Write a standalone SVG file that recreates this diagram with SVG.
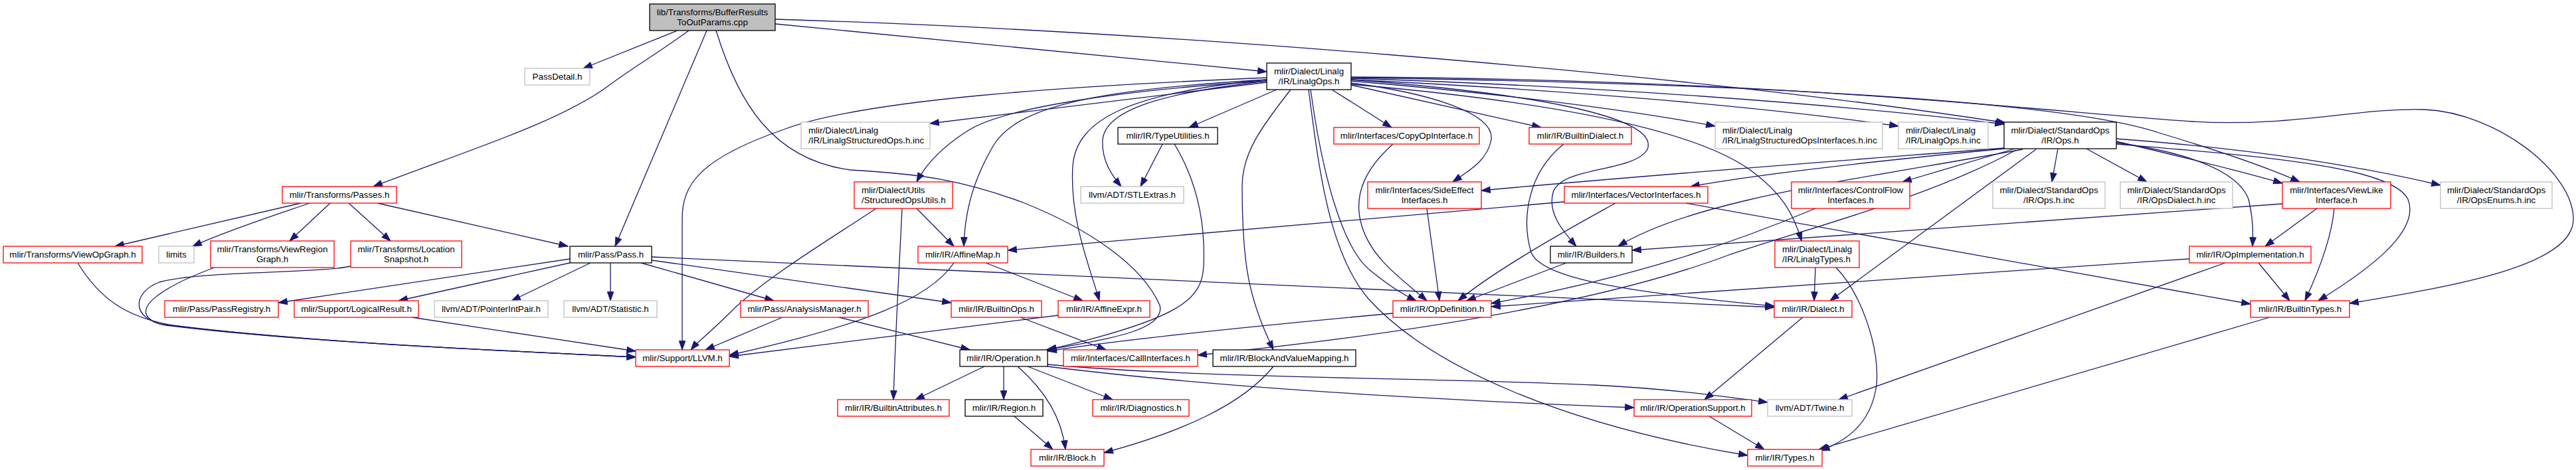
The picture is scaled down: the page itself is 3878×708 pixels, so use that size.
<svg xmlns="http://www.w3.org/2000/svg" width="3878" height="708" viewBox="0 0 3878 708">
<style>
.node rect{fill:#fff;stroke-width:1.3}
.r rect{stroke:#ff0000}
.k rect{stroke:#000}
.g rect{stroke:#bfbfbf}
.root rect{fill:#bfbfbf;stroke:#000}
text{font-family:"Liberation Sans",Arial,sans-serif;font-size:13.33px;fill:#000}
.c{text-anchor:middle}
#edges path{fill:none;stroke:#191970;stroke-width:1.3;marker-end:url(#ah)}
</style>
<defs>
<marker id="ah" viewBox="0 0 14 10" refX="13.3" refY="4.67" markerWidth="14" markerHeight="10" markerUnits="userSpaceOnUse" orient="auto" style="overflow:visible"><path d="M0,0 L13.3,4.67 L0,9.33 Z" fill="#191970" stroke="#191970" stroke-width="1"/></marker>
</defs>
<rect x="0" y="0" width="3878" height="708" fill="#fff"/>
<g id="edges">
<path d="M1020,46 L878,103"/>
<path d="M1037,46 C985,84 955,100 915,130 C840,185 700,228 562,281"/>
<path d="M1064,46 L926,371"/>
<path d="M1167,36 L1907,108"/>
<path d="M1167,29 C1700,45 2500,105 3019,185"/>
<path d="M1078,46 C1110,150 1160,240 1280,256 C1390,262 1450,272 1540,305 C1640,345 1720,400 1746,460 C1755,495 1680,510 1575,527"/>
<path d="M453,306 L173,371"/>
<path d="M466,306 C420,322 340,348 290,371"/>
<path d="M497,306 L436,363"/>
<path d="M525,306 L588,363"/>
<path d="M568,306 L855,371"/>
<path d="M117,396 C150,450 190,478 260,490 C450,515 750,528 957,538"/>
<path d="M323,403 C250,430 185,468 240,488 C450,515 750,528 957,538"/>
<path d="M528,401 C480,412 300,408 240,425 C200,440 195,480 250,490 C450,515 750,528 957,538"/>
<path d="M620,478 L957,529"/>
<path d="M858,390 L419,456"/>
<path d="M858,396 L600,453"/>
<path d="M889,396 L770,453"/>
<path d="M919,396 L919,453"/>
<path d="M965,396 L1165,453"/>
<path d="M981,387 L2671,463"/>
<path d="M981,392 L1432,456"/>
<path d="M1178,478 L1062,527"/>
<path d="M1263,478 L1460,527"/>
<path d="M1907,124 L1400,186"/>
<path d="M1907,122 C1700,135 1520,160 1460,195 C1420,220 1395,245 1380,274"/>
<path d="M1907,120 C1650,135 1530,160 1495,220 C1460,280 1452,330 1451,371"/>
<path d="M1907,117 C1600,130 1300,150 1180,195 C1050,240 1027,280 1027,330 L1027,527"/>
<path d="M1907,120 C1700,140 1620,180 1615,250 C1610,330 1640,400 1655,453"/>
<path d="M1907,122 C1750,140 1665,165 1660,210 C1658,240 1672,262 1688,281"/>
<path d="M1922,135 L1790,192"/>
<path d="M1943,135 C1900,190 1870,230 1870,280 C1870,400 1880,450 1917,527"/>
<path d="M1970,135 C1985,250 2000,380 2060,450 C2150,550 2350,640 2631,686"/>
<path d="M1973,135 C1990,260 2020,370 2060,405 C2090,430 2115,445 2132,453"/>
<path d="M2005,135 L2095,192"/>
<path d="M2034,125 C2150,140 2250,170 2245,210 C2240,240 2215,255 2187,274"/>
<path d="M2034,128 L2320,192"/>
<path d="M2034,120 C2300,140 2500,175 2480,225 C2460,260 2350,250 2338,290 C2330,320 2350,345 2373,371"/>
<path d="M2034,127 C2300,150 2550,190 2640,260 C2680,290 2700,320 2712,363"/>
<path d="M2034,122 C2250,140 2450,165 2582,190"/>
<path d="M2034,120 C2350,135 2650,160 2858,190"/>
<path d="M2034,118 C2400,130 2750,155 3017,187"/>
<path d="M2034,117 C2600,125 3100,150 3250,200 C3350,230 3420,255 3462,274"/>
<path d="M2034,116 C2700,120 3100,170 3300,183 C3450,192 3550,162 3650,165 C3760,170 3874,260 3874,330 C3874,400 3700,430 3537,457"/>
<path d="M1380,314 L1436,371"/>
<path d="M1358,314 C1354,400 1348,500 1345,602"/>
<path d="M1319,314 C1250,360 1150,420 1100,470 C1070,500 1050,515 1040,527"/>
<path d="M1750,217 L1717,281"/>
<path d="M1768,217 C1800,270 1815,330 1812,400 C1810,450 1780,480 1577,527"/>
<path d="M1436,396 C1400,450 1300,490 1098,535"/>
<path d="M1484,396 L1630,453"/>
<path d="M1593,475 L1098,537"/>
<path d="M1536,478 L1665,527"/>
<path d="M2097,217 C2060,250 2035,290 2050,340 C2065,390 2110,420 2148,453"/>
<path d="M2148,314 L2167,453"/>
<path d="M2354,217 C2300,260 2290,330 2305,380 C2320,420 2450,440 2671,461"/>
<path d="M2355,304 L1517,377"/>
<path d="M2432,306 C2380,335 2260,400 2195,453"/>
<path d="M2538,306 L3388,458"/>
<path d="M3017,223 C2800,240 2500,262 2230,287"/>
<path d="M3017,224 C2850,240 2650,262 2545,281"/>
<path d="M3033,224 L2864,274"/>
<path d="M3098,224 L3089,274"/>
<path d="M3141,224 L3232,274"/>
<path d="M3186,213 C3280,235 3380,260 3436,276"/>
<path d="M3186,209 C3400,225 3550,250 3674,279"/>
<path d="M3186,215 C3300,230 3370,260 3385,300 C3392,330 3392,350 3391,371"/>
<path d="M3186,217 C3400,235 3600,250 3625,300 C3645,350 3560,410 3490,453"/>
<path d="M3045,225 C2800,270 2550,300 2436,371"/>
<path d="M3035,226 C2900,300 2700,350 2600,385 C2400,460 2100,505 1803,535"/>
<path d="M3065,225 L2755,453"/>
<path d="M2733,314 C2600,370 2450,420 2245,457"/>
<path d="M3296,390 C2900,415 2500,445 2245,462"/>
<path d="M3436,307 L2457,377"/>
<path d="M3488,314 L3410,371"/>
<path d="M3514,314 C3510,360 3490,410 3470,453"/>
<path d="M2358,396 L2208,453"/>
<path d="M2097,472 C1900,490 1700,510 1577,529"/>
<path d="M2733,403 L2731,453"/>
<path d="M2764,403 C2800,440 2830,520 2825,580 C2818,630 2790,660 2741,679"/>
<path d="M2714,478 L2566,602"/>
<path d="M3400,396 L3447,453"/>
<path d="M3350,396 L2768,602"/>
<path d="M3417,478 L2738,677"/>
<path d="M1482,552 L1378,602"/>
<path d="M1511,552 L1511,602"/>
<path d="M1532,552 C1575,590 1598,630 1604,677"/>
<path d="M1547,552 L1675,602"/>
<path d="M1577,552 C1800,580 2100,600 2460,614"/>
<path d="M1577,549 C1800,570 2200,570 2400,580 C2520,586 2600,598 2661,606"/>
<path d="M1527,627 L1585,677"/>
<path d="M1917,552 C1870,610 1780,650 1662,682"/>
<path d="M2573,627 L2656,677"/>
</g>
<g id="n0" class="node root"><rect x="978" y="6" width="189" height="40"/><text class="c" x="1072.5" y="23">lib/Transforms/BufferResults</text><text class="c" x="1072.5" y="38">ToOutParams.cpp</text></g>
<g id="n1" class="node g"><rect x="790" y="103" width="98" height="25"/><text class="c" x="839" y="120">PassDetail.h</text></g>
<g id="n2" class="node k"><rect x="1907" y="95" width="127" height="40"/><text class="c" x="1970.5" y="112">mlir/Dialect/Linalg</text><text class="c" x="1970.5" y="127">/IR/LinalgOps.h</text></g>
<g id="n3" class="node k"><rect x="3017" y="184" width="169" height="40"/><text class="c" x="3101.5" y="201">mlir/Dialect/StandardOps</text><text class="c" x="3101.5" y="216">/IR/Ops.h</text></g>
<g id="n4" class="node r"><rect x="425" y="281" width="172" height="25"/><text class="c" x="511" y="298">mlir/Transforms/Passes.h</text></g>
<g id="n5" class="node k"><rect x="858" y="371" width="123" height="25"/><text class="c" x="919.5" y="388">mlir/Pass/Pass.h</text></g>
<g id="n6" class="node g"><rect x="1206" y="184" width="194" height="40"/><text x="1217" y="201">mlir/Dialect/Linalg</text><text x="1217" y="216">/IR/LinalgStructuredOps.h.inc</text></g>
<g id="n7" class="node k"><rect x="1683" y="192" width="150" height="25"/><text class="c" x="1758" y="209">mlir/IR/TypeUtilities.h</text></g>
<g id="n8" class="node r"><rect x="2008" y="192" width="219" height="25"/><text class="c" x="2117.5" y="209">mlir/Interfaces/CopyOpInterface.h</text></g>
<g id="n9" class="node r"><rect x="2302" y="192" width="154" height="25"/><text class="c" x="2379" y="209">mlir/IR/BuiltinDialect.h</text></g>
<g id="n10" class="node g"><rect x="2582" y="184" width="252" height="40"/><text x="2593" y="201">mlir/Dialect/Linalg</text><text x="2593" y="216">/IR/LinalgStructuredOpsInterfaces.h.inc</text></g>
<g id="n11" class="node g"><rect x="2858" y="184" width="135" height="40"/><text x="2869" y="201">mlir/Dialect/Linalg</text><text x="2869" y="216">/IR/LinalgOps.h.inc</text></g>
<g id="n12" class="node r"><rect x="1286" y="274" width="148" height="40"/><text x="1297" y="291">mlir/Dialect/Utils</text><text x="1297" y="306">/StructuredOpsUtils.h</text></g>
<g id="n13" class="node g"><rect x="1627" y="281" width="155" height="25"/><text class="c" x="1704.5" y="298">llvm/ADT/STLExtras.h</text></g>
<g id="n14" class="node r"><rect x="2059" y="274" width="171" height="40"/><text class="c" x="2144.5" y="291">mlir/Interfaces/SideEffect</text><text class="c" x="2144.5" y="306">Interfaces.h</text></g>
<g id="n15" class="node r"><rect x="2355" y="281" width="216" height="25"/><text class="c" x="2463" y="298">mlir/Interfaces/VectorInterfaces.h</text></g>
<g id="n16" class="node r"><rect x="2697" y="274" width="178" height="40"/><text class="c" x="2786" y="291">mlir/Interfaces/ControlFlow</text><text class="c" x="2786" y="306">Interfaces.h</text></g>
<g id="n17" class="node g"><rect x="3000" y="274" width="169" height="40"/><text class="c" x="3084.5" y="291">mlir/Dialect/StandardOps</text><text class="c" x="3084.5" y="306">/IR/Ops.h.inc</text></g>
<g id="n18" class="node g"><rect x="3192" y="274" width="169" height="40"/><text class="c" x="3276.5" y="291">mlir/Dialect/StandardOps</text><text class="c" x="3276.5" y="306">/IR/OpsDialect.h.inc</text></g>
<g id="n19" class="node r"><rect x="3436" y="274" width="163" height="40"/><text class="c" x="3517.5" y="291">mlir/Interfaces/ViewLike</text><text class="c" x="3517.5" y="306">Interface.h</text></g>
<g id="n20" class="node g"><rect x="3674" y="274" width="168" height="40"/><text class="c" x="3758" y="291">mlir/Dialect/StandardOps</text><text class="c" x="3758" y="306">/IR/OpsEnums.h.inc</text></g>
<g id="n21" class="node r"><rect x="5" y="371" width="209" height="25"/><text class="c" x="109.5" y="388">mlir/Transforms/ViewOpGraph.h</text></g>
<g id="n22" class="node g"><rect x="239" y="371" width="53" height="25"/><text class="c" x="265.5" y="388">limits</text></g>
<g id="n23" class="node r"><rect x="317" y="363" width="186" height="40"/><text class="c" x="410" y="380">mlir/Transforms/ViewRegion</text><text class="c" x="410" y="395">Graph.h</text></g>
<g id="n24" class="node r"><rect x="528" y="363" width="167" height="40"/><text class="c" x="611.5" y="380">mlir/Transforms/Location</text><text class="c" x="611.5" y="395">Snapshot.h</text></g>
<g id="n25" class="node r"><rect x="1382" y="371" width="135" height="25"/><text class="c" x="1449.5" y="388">mlir/IR/AffineMap.h</text></g>
<g id="n26" class="node k"><rect x="2334" y="371" width="123" height="25"/><text class="c" x="2395.5" y="388">mlir/IR/Builders.h</text></g>
<g id="n27" class="node r"><rect x="2672" y="363" width="127" height="40"/><text x="2683" y="380">mlir/Dialect/Linalg</text><text x="2683" y="395">/IR/LinalgTypes.h</text></g>
<g id="n28" class="node r"><rect x="3296" y="371" width="183" height="25"/><text class="c" x="3387.5" y="388">mlir/IR/OpImplementation.h</text></g>
<g id="n29" class="node r"><rect x="248" y="453" width="171" height="25"/><text class="c" x="333.5" y="470">mlir/Pass/PassRegistry.h</text></g>
<g id="n30" class="node r"><rect x="443" y="453" width="187" height="25"/><text class="c" x="536.5" y="470">mlir/Support/LogicalResult.h</text></g>
<g id="n31" class="node g"><rect x="654" y="453" width="171" height="25"/><text class="c" x="739.5" y="470">llvm/ADT/PointerIntPair.h</text></g>
<g id="n32" class="node g"><rect x="849" y="453" width="140" height="25"/><text class="c" x="919" y="470">llvm/ADT/Statistic.h</text></g>
<g id="n33" class="node r"><rect x="1115" y="453" width="192" height="25"/><text class="c" x="1211" y="470">mlir/Pass/AnalysisManager.h</text></g>
<g id="n34" class="node r"><rect x="1432" y="453" width="136" height="25"/><text class="c" x="1500" y="470">mlir/IR/BuiltinOps.h</text></g>
<g id="n35" class="node r"><rect x="1593" y="453" width="138" height="25"/><text class="c" x="1662" y="470">mlir/IR/AffineExpr.h</text></g>
<g id="n36" class="node r"><rect x="2097" y="453" width="148" height="25"/><text class="c" x="2171" y="470">mlir/IR/OpDefinition.h</text></g>
<g id="n37" class="node r"><rect x="2671" y="453" width="117" height="25"/><text class="c" x="2729.5" y="470">mlir/IR/Dialect.h</text></g>
<g id="n38" class="node r"><rect x="3388" y="453" width="149" height="25"/><text class="c" x="3462.5" y="470">mlir/IR/BuiltinTypes.h</text></g>
<g id="n39" class="node r"><rect x="957" y="527" width="141" height="25"/><text class="c" x="1027.5" y="544">mlir/Support/LLVM.h</text></g>
<g id="n40" class="node k"><rect x="1445" y="527" width="132" height="25"/><text class="c" x="1511" y="544">mlir/IR/Operation.h</text></g>
<g id="n41" class="node r"><rect x="1601" y="527" width="202" height="25"/><text class="c" x="1702" y="544">mlir/Interfaces/CallInterfaces.h</text></g>
<g id="n42" class="node k"><rect x="1826" y="527" width="215" height="25"/><text class="c" x="1933.5" y="544">mlir/IR/BlockAndValueMapping.h</text></g>
<g id="n43" class="node r"><rect x="1261" y="602" width="168" height="25"/><text class="c" x="1345" y="619">mlir/IR/BuiltinAttributes.h</text></g>
<g id="n44" class="node k"><rect x="1453" y="602" width="117" height="25"/><text class="c" x="1511.5" y="619">mlir/IR/Region.h</text></g>
<g id="n45" class="node r"><rect x="1645" y="602" width="145" height="25"/><text class="c" x="1717.5" y="619">mlir/IR/Diagnostics.h</text></g>
<g id="n46" class="node r"><rect x="2460" y="602" width="177" height="25"/><text class="c" x="2548.5" y="619">mlir/IR/OperationSupport.h</text></g>
<g id="n47" class="node g"><rect x="2661" y="602" width="127" height="25"/><text class="c" x="2724.5" y="619">llvm/ADT/Twine.h</text></g>
<g id="n48" class="node r"><rect x="1552" y="677" width="110" height="25"/><text class="c" x="1607" y="694">mlir/IR/Block.h</text></g>
<g id="n49" class="node r"><rect x="2631" y="677" width="112" height="25"/><text class="c" x="2687" y="694">mlir/IR/Types.h</text></g>
</svg>
